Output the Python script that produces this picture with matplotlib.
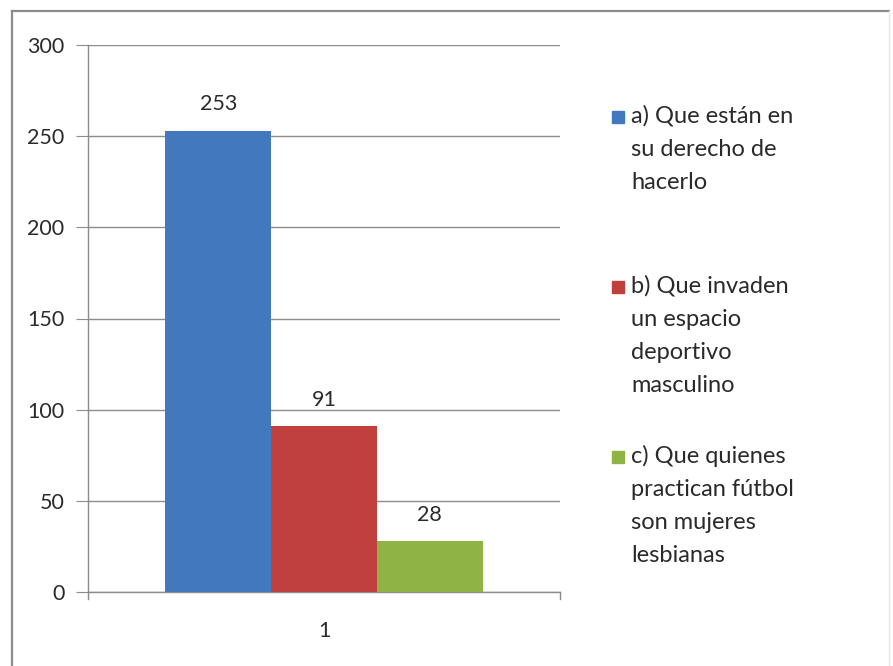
import matplotlib
matplotlib.use("Agg")
import matplotlib.pyplot as plt
from matplotlib.lines import Line2D
from matplotlib.patches import Rectangle

plt.rcParams['font.family'] = ['Lato', 'DejaVu Sans']

categories = ["1"]
series_labels = [
    ["a) Que están en", "su derecho de", "hacerlo"],
    ["b) Que invaden", "un espacio", "deportivo", "masculino"],
    ["c) Que quienes", "practican fútbol", "son mujeres", "lesbianas"],
]
series_values = [253, 91, 28]
series_colors = ["#4178be", "#c0403d", "#8fb444"]
y_ticks = [0, 50, 100, 150, 200, 250, 300]

W, H = 893, 666
fig = plt.figure(figsize=(W / 100, H / 100), dpi=100)
fig.patch.set_facecolor("white")

txt_color = "#2a2a2a"
num_size = 15.5
leg_size = 17

# chart-area frame
fig.add_artist(Line2D([12 / W, 12 / W], [0, 1 - 11 / H], color="#8c8c8c", lw=1.6))
fig.add_artist(Line2D([12 / W, 889 / W], [1 - 11 / H, 1 - 11 / H], color="#8c8c8c", lw=1.6))
fig.add_artist(Line2D([889 / W, 889 / W], [0, 1 - 11 / H], color="#e6e6e6", lw=1.0))

ax_left, ax_right = 88, 560
ax_top, ax_bottom = 45, 592
ax = fig.add_axes([ax_left / W, 1 - ax_bottom / H,
                   (ax_right - ax_left) / W, (ax_bottom - ax_top) / H])

bar_w = 0.224
offsets = [-bar_w, 0, bar_w]
for val, col, off in zip(series_values, series_colors, offsets):
    ax.bar(1 + off, val, width=bar_w, color=col, zorder=3)
    ax.text(1 + off, val + 14.5, str(val), ha="center", va="center",
            fontsize=num_size, color=txt_color)

ax.set_xlim(0.5, 1.5)
ax.set_ylim(0, 300)
ax.set_yticks(y_ticks)
ax.set_yticklabels([str(t) for t in y_ticks])
ax.set_xticks([1])
ax.set_xticklabels(categories)
ax.yaxis.grid(True, color="#8c8c8c", lw=1.0, zorder=0)
ax.set_axisbelow(True)
for s in ["top", "right"]:
    ax.spines[s].set_visible(False)
for s in ["left", "bottom"]:
    ax.spines[s].set_color("#8c8c8c")
    ax.spines[s].set_linewidth(1.0)
ax.tick_params(axis="y", length=9, color="#8c8c8c", labelsize=num_size,
               labelcolor=txt_color, pad=8)
ax.tick_params(axis="x", length=0, labelsize=num_size, labelcolor=txt_color, pad=21)
# x axis end ticks
for xb in (0.5, 1.5):
    ax.plot([xb, xb], [0, -4], color="#8c8c8c", lw=1.0, clip_on=False)

# legend entries: marker square plus wrapped label lines
legend_base = [123, 293, 463]
line_step = 33
for lines, col, base in zip(series_labels, series_colors, legend_base):
    fig.add_artist(Rectangle((612 / W, 1 - (base) / H), 12 / W, 12 / H,
                             color=col, transform=fig.transFigure))
    for i, line in enumerate(lines):
        fig.text(631 / W, 1 - (base + i * line_step) / H, line, ha="left",
                 va="baseline", fontsize=leg_size, color=txt_color)

fig.savefig("out.png", dpi=100)
